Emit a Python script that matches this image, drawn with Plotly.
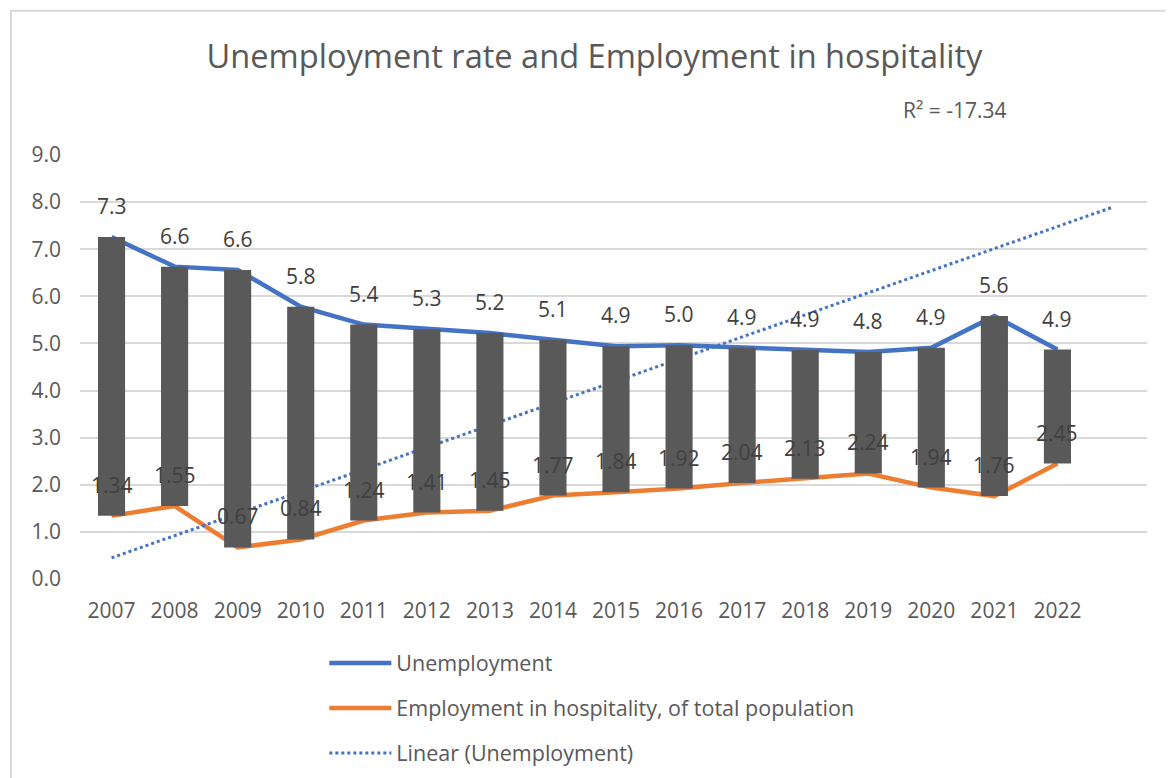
import plotly.graph_objects as go

# -------------------------------------------------
# Data
# -------------------------------------------------
years = ["2007", "2008", "2009", "2010", "2011", "2012", "2013", "2014",
         "2015", "2016", "2017", "2018", "2019", "2020", "2021", "2022"]
unemployment = [7.26, 6.63, 6.56, 5.78, 5.40, 5.30, 5.22, 5.08,
                4.94, 4.96, 4.91, 4.86, 4.82, 4.91, 5.58, 4.87]
employment_hosp = [1.34, 1.55, 0.67, 0.84, 1.24, 1.41, 1.45, 1.77,
                   1.84, 1.92, 2.04, 2.13, 2.24, 1.94, 1.76, 2.45]

# trendline as drawn by the spreadsheet (start / end of the dotted line)
trend_x = [0, 15.87]
trend_y = [0.45, 7.89]
r_squared = -17.34

y_ticks = [0, 1, 2, 3, 4, 5, 6, 7, 8, 9]

idx = list(range(len(years)))

BLUE = "#4472C4"
ORANGE = "#ED7D31"
BAR = "#595959"
TEXT = "#595959"
LABEL = "#404040"
GRID = "#D9D9D9"
FONT = "Open Sans"

fig = go.Figure()

# Lines (bottom layer)
fig.add_trace(go.Scatter(
    x=idx, y=unemployment, mode="lines", name="Unemployment",
    line=dict(color=BLUE, width=4.5), legendgroup="a",
))
fig.add_trace(go.Scatter(
    x=idx, y=employment_hosp, mode="lines",
    name="Employment in hospitality, of total population",
    line=dict(color=ORANGE, width=4.5), legendgroup="b",
))
fig.add_trace(go.Scatter(
    x=trend_x, y=trend_y, mode="lines", name="Linear (Unemployment)",
    line=dict(color=BLUE, width=3, dash="dot"), legendgroup="c",
))

# Up/down bars on overlay axes so they sit above the lines
fig.add_trace(go.Bar(
    x=idx,
    y=[u - e for u, e in zip(unemployment, employment_hosp)],
    base=employment_hosp,
    width=0.43,
    marker=dict(color=BAR, line=dict(width=0)),
    showlegend=False, hoverinfo="skip",
    xaxis="x2", yaxis="y2",
))

# Data labels
for i, (u, e) in enumerate(zip(unemployment, employment_hosp)):
    fig.add_annotation(x=i, y=u, text=f"{u:.1f}", showarrow=False, yshift=31,
                       font=dict(size=21, color=LABEL, family=FONT))
    fig.add_annotation(x=i, y=e, text=f"{e:.2f}", showarrow=False, yshift=31,
                       font=dict(size=21, color=LABEL, family=FONT))

# R² label
fig.add_annotation(xref="paper", yref="paper", x=0.82, y=1.105,
                   xanchor="center", yanchor="middle",
                   text=f"R² = {r_squared}", showarrow=False,
                   font=dict(size=21, color=TEXT, family=FONT))

# chart border
fig.add_shape(type="rect", xref="paper", yref="paper",
              x0=-0.0647, x1=1.2, y0=-0.6, y1=1.34,
              line=dict(color=GRID, width=2), layer="below")

x_range = [-0.5, 16.42]

# page body adds an 8px offset, margins compensate for it
fig.update_layout(
    width=1173, height=778,
    margin=dict(l=72, r=34, t=147, b=207),
    paper_bgcolor="white", plot_bgcolor="white",
    font=dict(family=FONT, color=TEXT, size=21),
    title=dict(text="Unemployment rate and Employment in hospitality",
               x=0.5, xref="container", y=0.937, yanchor="middle",
               font=dict(size=32.6, color=TEXT, family=FONT)),
    showlegend=True,
    legend=dict(orientation="v", x=0.229, xanchor="left", y=-0.15,
                yanchor="top", font=dict(size=21.5, color=TEXT, family=FONT),
                tracegroupgap=14, itemwidth=62, bgcolor="rgba(0,0,0,0)"),
    xaxis=dict(range=x_range, tickvals=idx, ticktext=years, showgrid=False,
               zeroline=False, showline=False, ticks="",
               ticklabelstandoff=17, tickfont=dict(size=21, color=TEXT)),
    yaxis=dict(range=[0, 9], tickvals=y_ticks, tickformat=".1f",
               showgrid=True, gridcolor=GRID, gridwidth=2, zeroline=False,
               showline=False, ticks="", ticklabelstandoff=18,
               tickfont=dict(size=21, color=TEXT)),
    xaxis2=dict(range=x_range, overlaying="x", visible=False),
    yaxis2=dict(range=[0, 9], overlaying="y", visible=False),
    hovermode=False,
)

fig.write_html("out.html")
